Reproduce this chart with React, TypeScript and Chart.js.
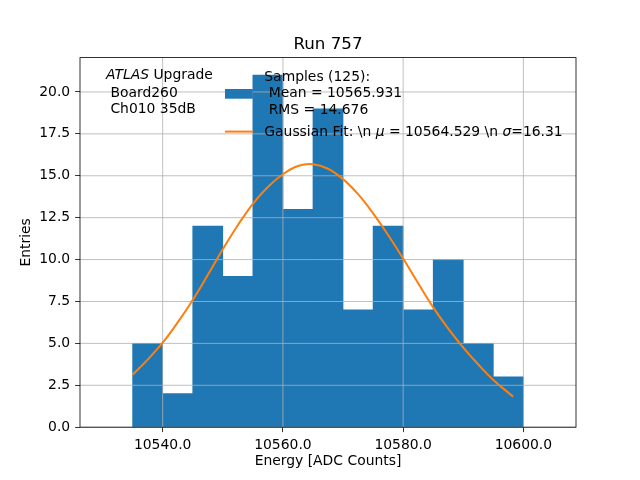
import { useEffect, useRef } from "react";
import { Chart, registerables } from "chart.js";
Chart.register(...registerables);

// histogram bins (width 5 ADC counts), centres and counts
const binCenters = [
  10537.5, 10542.5, 10547.5, 10552.5, 10557.5, 10562.5, 10567.5, 10572.5,
  10577.5, 10582.5, 10587.5, 10592.5, 10597.5,
];
const binCounts = [5, 2, 12, 9, 21, 13, 19, 7, 12, 7, 10, 5, 3];

// gaussian fit curve
const fitX = [
  10535, 10537.5, 10540, 10542.5, 10545, 10547.5, 10550, 10552.5, 10555,
  10557.5, 10560, 10562.5, 10565, 10567.5, 10570, 10572.5, 10575, 10577.5,
  10580, 10582.5, 10585, 10587.5, 10590, 10592.5, 10595, 10598.3,
];
const fitY = [
  3.13, 4.03, 5.04, 6.25, 7.59, 9.08, 10.62, 12.05, 13.33, 14.33, 15.09,
  15.58, 15.69, 15.42, 14.8, 13.9, 12.76, 11.47, 10.06, 8.59, 7.15, 5.88,
  4.75, 3.74, 2.82, 1.82,
];

const xTicks = [10540, 10560, 10580, 10600];
const yTicks = [0, 2.5, 5, 7.5, 10, 12.5, 15, 17.5, 20];

const FS = 13.9;
const FAMILY = '"DejaVu Sans"';
const font = (italic: boolean, size = FS) =>
  `${italic ? "italic " : ""}${size}px ${FAMILY}`;

type Run = [string, boolean];

function drawRuns(ctx: CanvasRenderingContext2D, x: number, y: number, runs: Run[]) {
  let cx = x;
  for (const [t, it] of runs) {
    ctx.font = font(it);
    ctx.fillText(t, cx, y);
    cx += ctx.measureText(t).width;
  }
}

const overlay = {
  id: "overlay",
  afterDatasetDraw(chart: any, args: any) {
    if (args.index !== 1) return;
    // grid lines sit above the bars, below the fit line
    const { ctx, chartArea: a, scales } = chart;
    ctx.save();
    ctx.strokeStyle = "#b0b0b0";
    ctx.lineWidth = 0.8;
    ctx.beginPath();
    for (const v of xTicks) {
      const px = scales.x.getPixelForValue(v);
      ctx.moveTo(px, a.top);
      ctx.lineTo(px, a.bottom);
    }
    for (const v of yTicks) {
      const py = scales.y.getPixelForValue(v);
      ctx.moveTo(a.left, py);
      ctx.lineTo(a.right, py);
    }
    ctx.stroke();
    ctx.restore();
  },
  afterDraw(chart: any) {
    const { ctx, chartArea: a } = chart;
    ctx.save();
    ctx.strokeStyle = "#000";
    ctx.lineWidth = 0.8;
    ctx.strokeRect(a.left, a.top, a.right - a.left, a.bottom - a.top);

    ctx.fillStyle = "#000";
    ctx.textBaseline = "alphabetic";

    // title
    ctx.font = font(false, 16.7);
    ctx.textAlign = "center";
    ctx.fillText("Run 757", (a.left + a.right) / 2, a.top - 9);

    ctx.textAlign = "left";
    // experiment label
    const lx = a.left + 26;
    drawRuns(ctx, lx, a.top + 21.7, [["ATLAS", true], [" Upgrade", false]]);
    drawRuns(ctx, lx, a.top + 39.2, [[" Board260", false]]);
    drawRuns(ctx, lx, a.top + 55.8, [[" Ch010 35dB", false]]);

    // legend
    const hx = a.left + 145;
    const tx = a.left + 184.3;
    ctx.fillStyle = "#1f77b4";
    ctx.fillRect(hx, a.top + 31.4, 27.8, 9.7);
    ctx.strokeStyle = "#ff7f0e";
    ctx.lineWidth = 2;
    ctx.beginPath();
    ctx.moveTo(hx, a.top + 74);
    ctx.lineTo(hx + 27.8, a.top + 74);
    ctx.stroke();

    ctx.fillStyle = "#000";
    drawRuns(ctx, tx, a.top + 23.4, [["Samples (125):", false]]);
    drawRuns(ctx, tx, a.top + 39.8, [[" Mean = 10565.931", false]]);
    drawRuns(ctx, tx, a.top + 56.4, [[" RMS = 14.676", false]]);
    drawRuns(ctx, tx, a.top + 78.6, [
      ["Gaussian Fit: \\n ", false],
      ["\u03bc", true],
      [" = 10564.529 \\n ", false],
      ["\u03c3", true],
      ["=16.31", false],
    ]);
    ctx.restore();
  },
};

export default function App() {
  const canvasRef = useRef<HTMLCanvasElement>(null);

  useEffect(() => {
    const canvas = canvasRef.current;
    if (!canvas) return;
    Chart.defaults.font.family = FAMILY;
    Chart.defaults.color = "#000";

    const chart = new Chart(canvas, {
      type: "bar",
      data: {
        datasets: [
          {
            type: "line",
            label: "Gaussian Fit",
            data: fitX.map((x, i) => ({ x, y: fitY[i] })),
            borderColor: "#ff7f0e",
            borderWidth: 2,
            pointRadius: 0,
            fill: false,
            tension: 0.4,
          },
          {
            type: "bar",
            label: "Samples",
            data: binCenters.map((x, i) => ({ x, y: binCounts[i] })),
            backgroundColor: "#1f77b4",
            borderWidth: 0,
            barPercentage: 1,
            categoryPercentage: 1,
          },
        ] as any,
      },
      options: {
        responsive: false,
        animation: false,
        layout: { padding: { top: 57.6, right: 64, left: 0, bottom: 0 } },
        plugins: {
          legend: { display: false },
          tooltip: { enabled: false },
          title: { display: false },
        },
        scales: {
          x: {
            type: "linear",
            min: 10526.25,
            max: 10608.75,
            offset: false,
            afterBuildTicks: (s: any) => {
              s.ticks = xTicks.map((value) => ({ value }));
            },
            afterFit: (s: any) => {
              s.height = 52.8;
            },
            ticks: {
              autoSkip: false,
              maxRotation: 0,
              padding: 4.9,
              font: { size: FS },
              color: "#000",
              callback: (v: any) => Number(v).toFixed(1),
            },
            grid: {
              offset: false,
              drawOnChartArea: false,
              tickLength: 4.9,
              tickColor: "#000",
              lineWidth: 0.8,
            },
            border: { display: false },
            title: {
              display: true,
              text: "Energy [ADC Counts]",
              font: { size: FS },
              color: "#000",
              padding: { top: 0, bottom: 10 },
            },
          },
          y: {
            type: "linear",
            min: 0,
            max: 22.05,
            afterBuildTicks: (s: any) => {
              s.ticks = yTicks.map((value) => ({ value }));
            },
            afterFit: (s: any) => {
              s.width = 80;
            },
            ticks: {
              autoSkip: false,
              padding: 4.9,
              font: { size: FS },
              color: "#000",
              callback: (v: any) => Number(v).toFixed(1),
            },
            grid: {
              drawOnChartArea: false,
              tickLength: 4.9,
              tickColor: "#000",
              lineWidth: 0.8,
            },
            border: { display: false },
            title: {
              display: true,
              text: "Entries",
              font: { size: FS },
              color: "#000",
              padding: { top: 18.3, bottom: 0 },
            },
          },
        },
      },
      plugins: [overlay],
    });

    return () => {
      chart.destroy();
    };
  }, []);

  return (
    <div style={{ position: "absolute", left: 0, top: 0, width: 640, height: 480, background: "#fff" }}>
      <canvas ref={canvasRef} width={640} height={480}></canvas>
    </div>
  );
}
